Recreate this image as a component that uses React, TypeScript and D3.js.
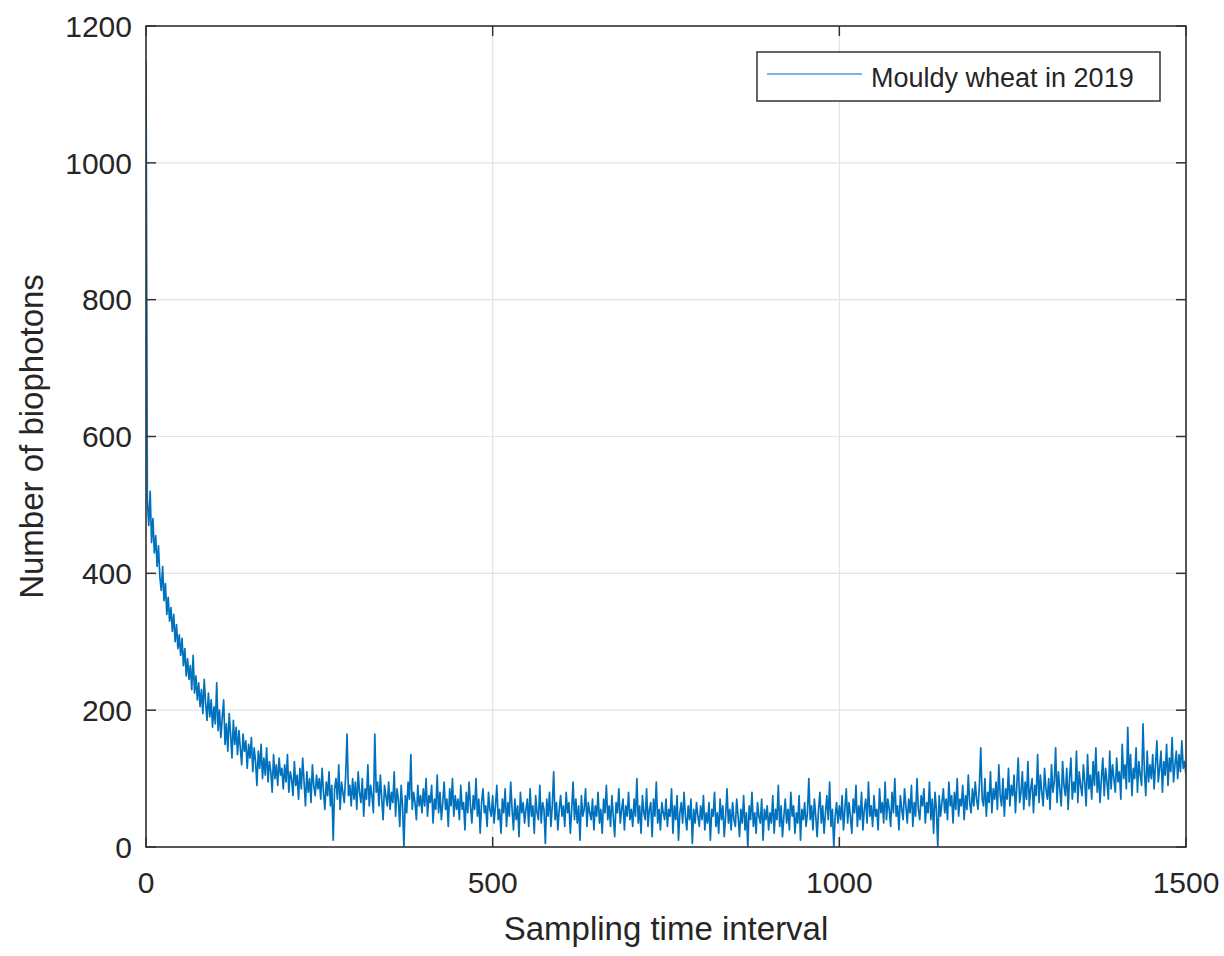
import React from "react";
import * as d3 from "d3";

// Sampling interval between stored readings (index units)
const sampleStep = 2;

// Biophoton counts, one every `sampleStep` samples starting at 0
const photonCounts: number[] = [
  // 0..48
  1150, 505, 470, 520, 445, 480, 430, 455, 410, 440, 395, 375, 410, 360, 385, 340, 365, 330, 350, 315, 340, 300, 325, 290, 310,
  // 50..98
  280, 305, 265, 290, 250, 275, 245, 265, 230, 280, 225, 250, 215, 240, 205, 230, 195, 245, 210, 185, 225, 190, 215, 175, 205,
  // 100..148
  180, 240, 170, 200, 160, 190, 215, 150, 180, 140, 195, 165, 130, 185, 150, 175, 135, 170, 145, 120, 165, 140, 155, 115, 150,
  // 150..198
  130, 160, 110, 145, 125, 90, 140, 115, 150, 100, 130, 105, 145, 95, 125, 110, 80, 135, 100, 120, 90, 130, 105, 115, 85,
  // 200..248
  120, 95, 135, 80, 110, 100, 75, 125, 90, 105, 70, 115, 85, 130, 95, 60, 110, 80, 100, 65, 120, 90, 75, 105, 85,
  // 250..298
  100, 70, 115, 80, 55, 95, 75, 110, 60, 90, 10, 85, 100, 70, 120, 55, 95, 80, 65, 105, 165, 75, 90, 60, 100,
  // 300..348
  70, 95, 55, 110, 80, 65, 100, 45, 85, 70, 120, 60, 90, 75, 50, 165, 80, 95, 60, 105, 70, 40, 90, 75, 60,
  // 350..398
  95, 55, 80, 65, 110, 45, 85, 70, 30, 90, 60, 0, 75, 50, 95, 70, 135, 55, 80, 65, 40, 90, 60, 75, 50,
  // 400..448
  85, 60, 100, 45, 75, 65, 90, 35, 70, 55, 105, 50, 80, 40, 65, 95, 55, 70, 30, 85, 60, 100, 45, 75, 55,
  // 450..498
  70, 40, 90, 55, 65, 25, 80, 50, 95, 60, 35, 75, 55, 100, 45, 70, 20, 65, 85, 50, 60, 30, 80, 55, 45,
  // 500..548
  75, 35, 60, 90, 40, 55, 20, 70, 50, 85, 30, 65, 45, 95, 55, 25, 70, 40, 60, 15, 80, 50, 65, 35, 55,
  // 550..598
  70, 30, 85, 45, 60, 20, 75, 50, 40, 90, 35, 65, 55, 5, 70, 45, 80, 30, 60, 110, 40, 65, 25, 55, 75,
  // 600..648
  45, 60, 30, 80, 50, 65, 20, 55, 95, 40, 70, 35, 60, 10, 75, 45, 55, 85, 30, 65, 50, 40, 70, 25, 60,
  // 650..698
  45, 80, 35, 55, 20, 70, 50, 90, 40, 60, 30, 75, 45, 15, 65, 50, 85, 35, 55, 70, 25, 60, 45, 80, 40,
  // 700..748
  55, 30, 70, 45, 100, 35, 60, 20, 75, 50, 40, 85, 30, 55, 65, 15, 70, 45, 95, 35, 55, 25, 65, 50, 40,
  // 750..798
  70, 30, 55, 45, 85, 20, 60, 40, 75, 10, 50, 65, 35, 80, 45, 25, 60, 40, 70, 5, 55, 35, 65, 45, 30,
  // 800..848
  60, 40, 75, 25, 50, 35, 65, 10, 55, 45, 80, 30, 50, 20, 70, 40, 60, 15, 45, 85, 35, 55, 25, 65, 40,
  // 850..898
  30, 70, 45, 15, 55, 35, 75, 25, 50, 0, 60, 40, 80, 30, 50, 20, 65, 45, 35, 70, 10, 55, 40, 60, 25,
  // 900..948
  50, 35, 75, 20, 55, 40, 90, 30, 60, 15, 45, 70, 35, 55, 25, 80, 45, 60, 20, 50, 35, 75, 10, 55, 40,
  // 950..998
  65, 30, 50, 100, 40, 60, 25, 70, 45, 15, 55, 80, 35, 60, 20, 50, 75, 40, 95, 30, 55, 0, 45, 65, 35,
  // 1000..1048
  60, 40, 75, 25, 55, 85, 35, 65, 45, 20, 70, 50, 90, 30, 60, 40, 80, 25, 55, 70, 35, 95, 45, 60, 30,
  // 1050..1098
  75, 45, 55, 25, 85, 50, 65, 35, 95, 40, 70, 55, 30, 80, 50, 100, 45, 60, 25, 75, 55, 40, 85, 60, 35,
  // 1100..1148
  70, 50, 90, 30, 65, 45, 100, 55, 40, 75, 60, 85, 35, 65, 50, 95, 40, 70, 20, 80, 55, 0, 75, 45, 65,
  // 1150..1198
  85, 50, 70, 40, 95, 60, 75, 35, 80, 55, 100, 45, 70, 60, 90, 40, 75, 55, 105, 65, 50, 85, 60, 95, 70,
  // 1200..1248
  55, 90, 145, 70, 60, 100, 45, 80, 65, 110, 50, 85, 70, 95, 55, 120, 75, 60, 100, 45, 85, 70, 115, 60, 90,
  // 1250..1298
  75, 105, 50, 90, 130, 65, 80, 110, 55, 95, 70, 125, 60, 85, 100, 50, 90, 75, 135, 65, 105, 80, 60, 115, 85,
  // 1300..1348
  70, 100, 55, 120, 80, 95, 145, 65, 110, 85, 60, 125, 90, 75, 115, 55, 100, 130, 70, 95, 80, 140, 65, 110, 90,
  // 1350..1398
  75, 120, 95, 60, 135, 85, 105, 70, 125, 90, 145, 80, 110, 65, 100, 130, 75, 115, 95, 70, 140, 85, 120, 100, 80,
  // 1400..1448
  130, 95, 110, 70, 150, 100, 120, 85, 175, 95, 135, 75, 115, 100, 145, 80, 125, 105, 90, 180, 110, 75, 140, 95, 120,
  // 1450..1498
  100, 135, 85, 120, 155, 95, 115, 140, 80, 125, 105, 150, 90, 130, 110, 160, 95, 120, 140, 100, 135, 110, 155, 115, 125,
  // 1500
  105,
];

const xTicks = [0, 500, 1000, 1500];
const yTicks = [0, 200, 400, 600, 800, 1000, 1200];
const xDomain = [0, 1500];
const yDomain = [0, 1200];
const seriesName = "Mouldy wheat in 2019";
const xLabel = "Sampling time interval";
const yLabel = "Number of biophotons";

const W = 1224;
const H = 956;
const M = { left: 146, top: 26, right: 1186, bottom: 847 };
const FONT = "'Liberation Sans', Arial, Helvetica, sans-serif";
const TXT = "#262626";
const LINE = "#0072BD";

export default function App() {
  const x = d3.scaleLinear().domain(xDomain).range([M.left, M.right]);
  const y = d3.scaleLinear().domain(yDomain).range([M.bottom, M.top]);
  const line = d3
    .line<number>()
    .x((_, i) => x(i * sampleStep))
    .y((d) => y(d));
  const tickLen = 10;

  return (
    <svg
      width={W}
      height={H}
      style={{ position: "absolute", left: 0, top: 0, background: "#fff" }}
      fontFamily={FONT}
    >
      <defs>
        <clipPath id="plotClip">
          <rect x={M.left} y={M.top} width={M.right - M.left} height={M.bottom - M.top} />
        </clipPath>
      </defs>
      <rect x={0} y={0} width={W} height={H} fill="#fff" />
      {/* grid */}
      {yTicks.map((t) => (
        <line key={"gy" + t} x1={M.left} x2={M.right} y1={y(t)} y2={y(t)} stroke="#e3e3e3" strokeWidth={1.2} />
      ))}
      {xTicks.map((t) => (
        <line key={"gx" + t} x1={x(t)} x2={x(t)} y1={M.top} y2={M.bottom} stroke="#e3e3e3" strokeWidth={1.2} />
      ))}
      {/* data */}
      <path
        d={line(photonCounts) || ""}
        fill="none"
        stroke={LINE}
        strokeWidth={1.7}
        strokeLinejoin="round"
        clipPath="url(#plotClip)"
      />
      {/* ticks */}
      {yTicks.map((t) => (
        <g key={"ty" + t}>
          <line x1={M.left} x2={M.left + tickLen} y1={y(t)} y2={y(t)} stroke="#333" strokeWidth={1.5} />
          <line x1={M.right} x2={M.right - tickLen} y1={y(t)} y2={y(t)} stroke="#333" strokeWidth={1.5} />
          <text x={M.left - 14} y={y(t)} dy="0.36em" textAnchor="end" fontSize={30} fill={TXT}>
            {t}
          </text>
        </g>
      ))}
      {xTicks.map((t) => (
        <g key={"tx" + t}>
          <line x1={x(t)} x2={x(t)} y1={M.bottom} y2={M.bottom - tickLen} stroke="#333" strokeWidth={1.5} />
          <line x1={x(t)} x2={x(t)} y1={M.top} y2={M.top + tickLen} stroke="#333" strokeWidth={1.5} />
          <text x={x(t)} y={893} textAnchor="middle" fontSize={30} fill={TXT}>
            {t}
          </text>
        </g>
      ))}
      {/* box */}
      <rect
        x={M.left}
        y={M.top}
        width={M.right - M.left}
        height={M.bottom - M.top}
        fill="none"
        stroke="#333"
        strokeWidth={1.6}
      />
      {/* axis labels */}
      <text x={(M.left + M.right) / 2} y={940} textAnchor="middle" fontSize={33} fill={TXT}>
        {xLabel}
      </text>
      <text
        transform={`translate(43, ${(M.top + M.bottom) / 2}) rotate(-90)`}
        textAnchor="middle"
        fontSize={33}
        fill={TXT}
      >
        {yLabel}
      </text>
      {/* legend */}
      <g>
        <rect x={757} y={52} width={403} height={49} fill="#fff" stroke="#333" strokeWidth={1.5} />
        <line x1={767} x2={862} y1={74} y2={74} stroke={LINE} strokeWidth={1.3} opacity={0.7} />
        <text x={871} y={87} fontSize={27} fill={TXT}>
          {seriesName}
        </text>
      </g>
    </svg>
  );
}
